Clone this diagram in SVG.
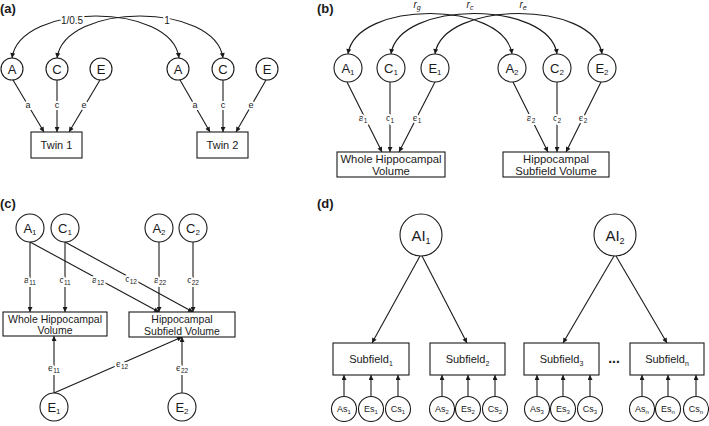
<svg xmlns="http://www.w3.org/2000/svg" width="709" height="426" viewBox="0 0 709 426">
<defs>
<style>
.ln{stroke:#1a1a1a;stroke-width:1.1;fill:none}
.ar{marker-end:url(#ah)}
.dbl{marker-start:url(#ah);marker-end:url(#ah)}
.nd{fill:#fff;stroke:#1a1a1a;stroke-width:1.1}
text{font-family:"Liberation Sans",Arial,sans-serif;fill:#1a1a1a;text-anchor:middle}
.pl{font-weight:bold;font-size:13px;text-anchor:start}
.lb{font-size:9px;paint-order:stroke;stroke:#fff;stroke-width:4px;stroke-linejoin:round}
.sb{font-size:6.5px}
.ca{font-size:13px}
.bx{font-size:11px}
.r{font-size:10px;font-style:italic}
</style>
<marker id="ah" viewBox="0 0 10 10" refX="10" refY="5" markerWidth="6" markerHeight="5" markerUnits="userSpaceOnUse" orient="auto-start-reverse">
<path d="M0,0 L10,5 L0,10 z" fill="#1a1a1a"/>
</marker>
</defs>
<rect width="709" height="426" fill="#fff"/>

<!-- panel labels -->
<text class="pl" x="0" y="13">(a)</text>
<text class="pl" x="317" y="13">(b)</text>
<text class="pl" x="0" y="208">(c)</text>
<text class="pl" x="317" y="208">(d)</text>

<g id="connectors">
<!-- panel a -->
<path class="ln dbl" d="M12,58 C20,2 172,2 179,58"/>
<path class="ln dbl" d="M57,58 C65,2 215,2 223,58"/>
<text class="lb" x="72" y="24" style="font-size:10px">1/0.5</text>
<text class="lb" x="167" y="24" style="font-size:10px">1</text>
<path class="ln ar" d="M13,80 L44,132"/>
<path class="ln ar" d="M57,80 L57,132"/>
<path class="ln ar" d="M100,80 L69,132"/>
<text class="lb" x="28" y="108">a</text>
<text class="lb" x="57" y="108">c</text>
<text class="lb" x="84" y="108">e</text>
<path class="ln ar" d="M180,80 L210,132"/>
<path class="ln ar" d="M223,80 L223,132"/>
<path class="ln ar" d="M266,80 L236,132"/>
<text class="lb" x="195" y="108">a</text>
<text class="lb" x="223" y="108">c</text>
<text class="lb" x="251" y="108">e</text>

<!-- panel b -->
<path class="ln dbl" d="M348,54 C356,0 504,0 512,54"/>
<path class="ln dbl" d="M391,54 C399,0 549,0 557,54"/>
<path class="ln dbl" d="M435,54 C443,0 594,0 602,54"/>
<text class="r" x="417" y="8">r<tspan dy="2" font-size="7">g</tspan></text>
<text class="r" x="470" y="8">r<tspan dy="2" font-size="7">c</tspan></text>
<text class="r" x="523" y="8">r<tspan dy="2" font-size="7">e</tspan></text>
<path class="ln ar" d="M347,82 L382,152"/>
<path class="ln ar" d="M390,82 L390,152"/>
<path class="ln ar" d="M435,82 L399,152"/>
<text class="lb" x="363" y="121">a<tspan class="sb" dy="2">1</tspan></text>
<text class="lb" x="390" y="121">c<tspan class="sb" dy="2">1</tspan></text>
<text class="lb" x="417" y="121">e<tspan class="sb" dy="2">1</tspan></text>
<path class="ln ar" d="M513,82 L548,152"/>
<path class="ln ar" d="M557,82 L557,152"/>
<path class="ln ar" d="M601,82 L566,152"/>
<text class="lb" x="531" y="121">a<tspan class="sb" dy="2">2</tspan></text>
<text class="lb" x="557" y="121">c<tspan class="sb" dy="2">2</tspan></text>
<text class="lb" x="583" y="121">e<tspan class="sb" dy="2">2</tspan></text>

<!-- panel c -->
<path class="ln ar" d="M30,242 L30,312"/>
<path class="ln ar" d="M65,242 L65,312"/>
<path class="ln ar" d="M30,242 L159,312"/>
<path class="ln ar" d="M65,242 L193,312"/>
<path class="ln ar" d="M159,242 L159,312"/>
<path class="ln ar" d="M193,242 L193,312"/>
<path class="ln ar" d="M54,393 L54,336"/>
<path class="ln ar" d="M54,393 L182,337"/>
<path class="ln ar" d="M182,393 L182,337"/>
<text class="lb" x="30" y="283">a<tspan class="sb" dy="2">11</tspan></text>
<text class="lb" x="65" y="283">c<tspan class="sb" dy="2">11</tspan></text>
<text class="lb" x="98" y="283">a<tspan class="sb" dy="2">12</tspan></text>
<text class="lb" x="131" y="282">c<tspan class="sb" dy="2">12</tspan></text>
<text class="lb" x="160" y="283">a<tspan class="sb" dy="2">22</tspan></text>
<text class="lb" x="193" y="283">c<tspan class="sb" dy="2">22</tspan></text>
<text class="lb" x="54" y="371">e<tspan class="sb" dy="2">11</tspan></text>
<text class="lb" x="122" y="367">e<tspan class="sb" dy="2">12</tspan></text>
<text class="lb" x="182" y="371">e<tspan class="sb" dy="2">22</tspan></text>

<!-- panel d -->
<path class="ln ar" d="M420,256 L372,343"/>
<path class="ln ar" d="M422,256 L467,343"/>
<path class="ln ar" d="M614,256 L563,343"/>
<path class="ln ar" d="M616,256 L667,343"/>
<path class="ln ar" d="M344,396 L344,375"/>
<path class="ln ar" d="M371,396 L371,375"/>
<path class="ln ar" d="M398,396 L398,375"/>
<path class="ln ar" d="M442,396 L442,375"/>
<path class="ln ar" d="M468,396 L468,375"/>
<path class="ln ar" d="M495,396 L495,375"/>
<path class="ln ar" d="M537,396 L537,375"/>
<path class="ln ar" d="M563,396 L563,375"/>
<path class="ln ar" d="M590,396 L590,375"/>
<path class="ln ar" d="M642,396 L642,375"/>
<path class="ln ar" d="M668,396 L668,375"/>
<path class="ln ar" d="M696,396 L696,375"/>
<text x="614" y="363" style="font-size:14px;font-weight:bold">...</text>
</g>

<!-- panel a nodes -->
<g id="a-A1"><circle class="nd" cx="12" cy="69" r="11"/><text class="ca" x="12" y="73.5">A</text></g>
<g id="a-C1"><circle class="nd" cx="57" cy="69" r="11"/><text class="ca" x="57" y="73.5">C</text></g>
<g id="a-E1"><circle class="nd" cx="101" cy="69" r="11"/><text class="ca" x="101" y="73.5">E</text></g>
<g id="a-A2"><circle class="nd" cx="178" cy="69" r="11"/><text class="ca" x="178" y="73.5">A</text></g>
<g id="a-C2"><circle class="nd" cx="223" cy="69" r="11"/><text class="ca" x="223" y="73.5">C</text></g>
<g id="a-E2"><circle class="nd" cx="267" cy="69" r="11"/><text class="ca" x="267" y="73.5">E</text></g>
<g id="a-twin1"><rect class="nd" x="31" y="132" width="51" height="26"/><text class="bx" x="56.5" y="149">Twin 1</text></g>
<g id="a-twin2"><rect class="nd" x="197" y="132" width="51" height="26"/><text class="bx" x="222.5" y="149">Twin 2</text></g>

<!-- panel b nodes -->
<g id="b-A1"><circle class="nd" cx="348" cy="68" r="14"/><text class="ca" x="348" y="72.5">A<tspan font-size="8" dy="2">1</tspan></text></g>
<g id="b-C1"><circle class="nd" cx="391" cy="68" r="14"/><text class="ca" x="391" y="72.5">C<tspan font-size="8" dy="2">1</tspan></text></g>
<g id="b-E1"><circle class="nd" cx="435" cy="68" r="14"/><text class="ca" x="435" y="72.5">E<tspan font-size="8" dy="2">1</tspan></text></g>
<g id="b-A2"><circle class="nd" cx="512" cy="68" r="14"/><text class="ca" x="512" y="72.5">A<tspan font-size="8" dy="2">2</tspan></text></g>
<g id="b-C2"><circle class="nd" cx="557" cy="68" r="14"/><text class="ca" x="557" y="72.5">C<tspan font-size="8" dy="2">2</tspan></text></g>
<g id="b-E2"><circle class="nd" cx="602" cy="68" r="14"/><text class="ca" x="602" y="72.5">E<tspan font-size="8" dy="2">2</tspan></text></g>
<g id="b-whole"><rect class="nd" x="337" y="152" width="108" height="25"/><text style="font-size:11.3px" x="391" y="162.5">Whole Hippocampal</text><text style="font-size:11.3px" x="391" y="175">Volume</text></g>
<g id="b-subfield"><rect class="nd" x="503" y="152" width="106" height="25"/><text style="font-size:11.3px" x="556" y="162.5">Hippocampal</text><text style="font-size:11.3px" x="556" y="175">Subfield Volume</text></g>

<!-- panel c nodes -->
<g id="c-A1"><circle class="nd" cx="30" cy="228" r="14"/><text class="ca" x="30" y="232.5">A<tspan font-size="8" dy="2">1</tspan></text></g>
<g id="c-C1"><circle class="nd" cx="65" cy="228" r="14"/><text class="ca" x="65" y="232.5">C<tspan font-size="8" dy="2">1</tspan></text></g>
<g id="c-A2"><circle class="nd" cx="159" cy="228" r="14"/><text class="ca" x="159" y="232.5">A<tspan font-size="8" dy="2">2</tspan></text></g>
<g id="c-C2"><circle class="nd" cx="193" cy="228" r="14"/><text class="ca" x="193" y="232.5">C<tspan font-size="8" dy="2">2</tspan></text></g>
<g id="c-E1"><circle class="nd" cx="54" cy="407" r="14"/><text class="ca" x="54" y="411.5">E<tspan font-size="8" dy="2">1</tspan></text></g>
<g id="c-E2"><circle class="nd" cx="182" cy="407" r="14"/><text class="ca" x="182" y="411.5">E<tspan font-size="8" dy="2">2</tspan></text></g>
<g id="c-whole"><rect class="nd" x="3" y="312" width="104" height="24"/><text style="font-size:10.5px" x="55" y="322.5">Whole Hippocampal</text><text style="font-size:10.5px" x="55" y="334">Volume</text></g>
<g id="c-subfield"><rect class="nd" x="129" y="312" width="106" height="25"/><text style="font-size:10.5px" x="182" y="322.5">Hippocampal</text><text style="font-size:10.5px" x="182" y="334.5">Subfield Volume</text></g>

<!-- panel d nodes -->
<g id="d-AI1"><circle class="nd" cx="421" cy="235" r="21"/><text x="421" y="240.5" style="font-size:15px">AI<tspan font-size="9" dy="3">1</tspan></text></g>
<g id="d-AI2"><circle class="nd" cx="615" cy="235" r="21"/><text x="615" y="240.5" style="font-size:15px">AI<tspan font-size="9" dy="3">2</tspan></text></g>
<g id="d-sf1"><rect class="nd" x="333" y="343" width="76" height="32"/><text class="bx" x="371" y="363">Subfield<tspan font-size="7" dy="2.5">1</tspan></text></g>
<g id="d-sf2"><rect class="nd" x="430" y="343" width="75" height="32"/><text class="bx" x="467.5" y="363">Subfield<tspan font-size="7" dy="2.5">2</tspan></text></g>
<g id="d-sf3"><rect class="nd" x="524" y="343" width="75" height="32"/><text class="bx" x="561.5" y="363">Subfield<tspan font-size="7" dy="2.5">3</tspan></text></g>
<g id="d-sfn"><rect class="nd" x="630" y="343" width="74" height="32"/><text class="bx" x="667" y="363">Subfield<tspan font-size="7" dy="2.5">n</tspan></text></g>
<g id="d-As1"><circle class="nd" cx="344" cy="409" r="12.5"/><text x="344" y="412" style="font-size:9px">As<tspan font-size="6" dy="2">1</tspan></text></g>
<g id="d-Es1"><circle class="nd" cx="371" cy="409" r="12.5"/><text x="371" y="412" style="font-size:9px">Es<tspan font-size="6" dy="2">1</tspan></text></g>
<g id="d-Cs1"><circle class="nd" cx="398" cy="409" r="12.5"/><text x="398" y="412" style="font-size:9px">Cs<tspan font-size="6" dy="2">1</tspan></text></g>
<g id="d-As2"><circle class="nd" cx="442" cy="409" r="12.5"/><text x="442" y="412" style="font-size:9px">As<tspan font-size="6" dy="2">2</tspan></text></g>
<g id="d-Es2"><circle class="nd" cx="468" cy="409" r="12.5"/><text x="468" y="412" style="font-size:9px">Es<tspan font-size="6" dy="2">2</tspan></text></g>
<g id="d-Cs2"><circle class="nd" cx="495" cy="409" r="12.5"/><text x="495" y="412" style="font-size:9px">Cs<tspan font-size="6" dy="2">2</tspan></text></g>
<g id="d-As3"><circle class="nd" cx="537" cy="409" r="12.5"/><text x="537" y="412" style="font-size:9px">As<tspan font-size="6" dy="2">3</tspan></text></g>
<g id="d-Es3"><circle class="nd" cx="563" cy="409" r="12.5"/><text x="563" y="412" style="font-size:9px">Es<tspan font-size="6" dy="2">3</tspan></text></g>
<g id="d-Cs3"><circle class="nd" cx="590" cy="409" r="12.5"/><text x="590" y="412" style="font-size:9px">Cs<tspan font-size="6" dy="2">3</tspan></text></g>
<g id="d-Asn"><circle class="nd" cx="642" cy="409" r="12.5"/><text x="642" y="412" style="font-size:9px">As<tspan font-size="6" dy="2">n</tspan></text></g>
<g id="d-Esn"><circle class="nd" cx="668" cy="409" r="12.5"/><text x="668" y="412" style="font-size:9px">Es<tspan font-size="6" dy="2">n</tspan></text></g>
<g id="d-Csn"><circle class="nd" cx="696" cy="409" r="12.5"/><text x="696" y="412" style="font-size:9px">Cs<tspan font-size="6" dy="2">n</tspan></text></g>
</svg>
